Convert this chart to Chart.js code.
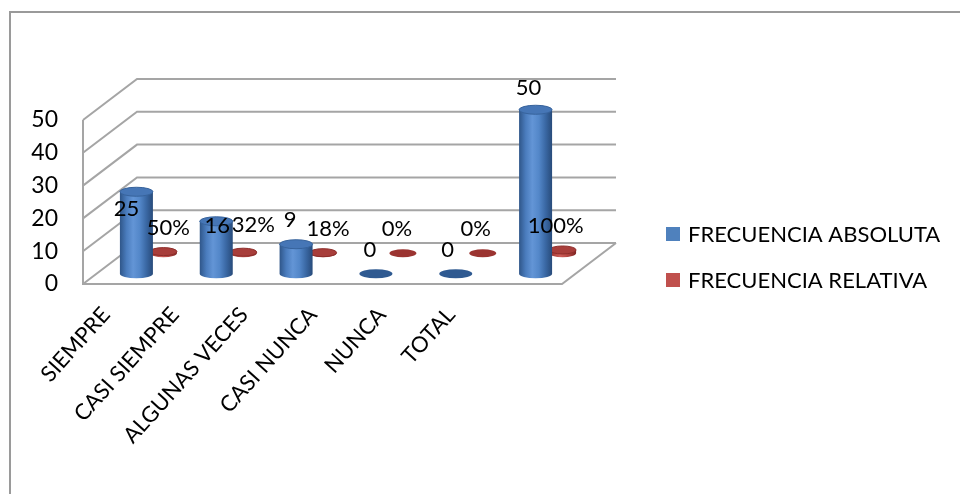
<!DOCTYPE html>
<html><head><meta charset="utf-8">
<script src="https://cdn.jsdelivr.net/npm/chart.js@4.4.1/dist/chart.umd.min.js"></script>
<style>html,body{margin:0;padding:0;background:#fff;}#wrap{width:960px;height:494px;position:relative;}</style>
</head><body><div id="wrap"><canvas id="c" width="960" height="494"></canvas></div>
<script>
// ---- data ----
const categories = ['SIEMPRE', 'CASI SIEMPRE', 'ALGUNAS VECES', 'CASI NUNCA', 'NUNCA', 'TOTAL'];
const absoluta = [25, 16, 9, 0, 0, 50];
const relativa = [0.50, 0.32, 0.18, 0, 0, 1.00];
const seriesNames = ['FRECUENCIA ABSOLUTA', 'FRECUENCIA RELATIVA'];
const yMin = 0, yMax = 50, yStep = 10;

// ---- style ----
const FONT = 'Lato, "Open Sans", sans-serif';
const DEPTH = { dx: 54, dy: -41 };
const STYLE = [
  { depth: 0.25, rx: 16.5, ry: 4.5, grad: ['#2f5689', '#4a7cbd', '#6395d6', '#5387c9', '#3a68a4', '#284b7a'], top: '#4676b6', rim: '#37639c', base: '#2f5a91', legend: '#4F81BD' },
  { depth: 0.75, rx: 13.5, ry: 4, grad: ['#8a2a28', '#b2443f', '#cc5e5a', '#bf4f4b', '#a33a37', '#7d2422'], top: '#a83e3b', rim: '#8e2e2b', base: '#9b3431', legend: '#C0504D' }
];
// label nudges (px) relative to default placement above the column top
const LABEL_NUDGE = [
  [[-10, 41], [1, 29], [-6, 0], [-6, 0], [-8, 0], [-7, 2]],
  [[5, 0], [10, -3], [5, 0], [-6, 0], [-7, 0], [-7, 0]]
];
const GRID = '#a5a5a5';

const excel3d = {
  id: 'excel3d',
  beforeDraw(chart) {
    const ctx = chart.ctx;
    ctx.save();
    ctx.fillStyle = '#fff';
    ctx.fillRect(0, 0, chart.width, chart.height);
    ctx.strokeStyle = '#9a9a9a';
    ctx.lineWidth = 2;
    ctx.beginPath();
    ctx.moveTo(10, chart.height + 5);
    ctx.lineTo(10, 12);
    ctx.lineTo(chart.width + 5, 12);
    ctx.stroke();
    ctx.restore();
  },
  beforeDatasetsDraw(chart) {
    const ctx = chart.ctx, y = chart.scales.y, a = chart.chartArea;
    ctx.save();
    ctx.strokeStyle = GRID;
    ctx.lineWidth = 2;
    ctx.lineJoin = 'miter';
    for (const t of y.ticks) {
      const py = y.getPixelForValue(t.value);
      ctx.beginPath();
      ctx.moveTo(a.left, py);
      ctx.lineTo(a.left + DEPTH.dx, py + DEPTH.dy);
      ctx.lineTo(a.right + DEPTH.dx, py + DEPTH.dy);
      ctx.stroke();
    }
    ctx.beginPath();
    ctx.moveTo(a.left, y.getPixelForValue(yMax));
    ctx.lineTo(a.left, y.getPixelForValue(yMin));
    ctx.lineTo(a.right, y.getPixelForValue(yMin));
    ctx.lineTo(a.right + DEPTH.dx, y.getPixelForValue(yMin) + DEPTH.dy);
    ctx.stroke();
    ctx.restore();
  },
  afterDatasetsDraw(chart) {
    const ctx = chart.ctx;
    ctx.save();
    for (const di of [1, 0]) {
      const st = STYLE[di];
      const meta = chart.getDatasetMeta(di);
      meta.data.forEach((el) => {
        const ox = DEPTH.dx * st.depth, oy = DEPTH.dy * st.depth;
        const cx = el.x + ox, top = el.y + oy, base = el.base + oy;
        const rx = st.rx, ry = st.ry;
        const h = base - top;
        if (h > 0.5) {
          const g = ctx.createLinearGradient(cx - rx, 0, cx + rx, 0);
          const n = st.grad.length;
          st.grad.forEach((c, i) => g.addColorStop(i / (n - 1), c));
          ctx.fillStyle = g;
          ctx.beginPath();
          ctx.moveTo(cx - rx, top);
          ctx.lineTo(cx - rx, base);
          ctx.ellipse(cx, base, rx, ry, 0, Math.PI, 0, true);
          ctx.lineTo(cx + rx, top);
          ctx.closePath();
          ctx.fill();
          ctx.fillStyle = st.top;
          ctx.strokeStyle = st.rim;
          ctx.lineWidth = 1;
          ctx.beginPath();
          ctx.ellipse(cx, top, rx, ry, 0, 0, Math.PI * 2);
          ctx.fill();
          ctx.stroke();
        } else {
          ctx.fillStyle = st.base;
          ctx.beginPath();
          ctx.ellipse(cx, base, rx, ry, 0, 0, Math.PI * 2);
          ctx.fill();
        }
      });
    }
    ctx.fillStyle = '#000';
    ctx.font = '22px ' + FONT;
    ctx.textAlign = 'center';
    ctx.textBaseline = 'middle';
    for (const di of [0, 1]) {
      const st = STYLE[di];
      const meta = chart.getDatasetMeta(di);
      const vals = chart.data.datasets[di].data;
      meta.data.forEach((el, i) => {
        const ox = DEPTH.dx * st.depth, oy = DEPTH.dy * st.depth;
        const txt = di === 0 ? String(vals[i]) : Math.round(vals[i] * 100) + '%';
        const nd = LABEL_NUDGE[di][i];
        ctx.fillText(txt, el.x + ox + nd[0], el.y + oy - 24 + nd[1]);
      });
    }
    ctx.font = '22px ' + FONT;
    ctx.textAlign = 'left';
    chart.data.datasets.forEach((ds, di) => {
      const cy = 234 + di * 46;
      ctx.fillStyle = STYLE[di].legend;
      ctx.fillRect(666, cy - 7, 14, 14);
      ctx.fillStyle = '#000';
      ctx.fillText(ds.label, 688, cy + 1);
    });
    ctx.restore();
  }
};

new Chart(document.getElementById('c'), {
  type: 'bar',
  data: {
    labels: categories,
    datasets: [
      { label: seriesNames[0], data: absoluta, backgroundColor: 'rgba(0,0,0,0)', borderWidth: 0, grouped: false },
      { label: seriesNames[1], data: relativa, backgroundColor: 'rgba(0,0,0,0)', borderWidth: 0, grouped: false }
    ]
  },
  options: {
    responsive: false,
    animation: false,
    events: [],
    layout: { padding: { left: 0, right: 398, top: 120, bottom: 0 } },
    plugins: { legend: { display: false }, tooltip: { enabled: false } },
    scales: {
      x: { type: 'category', display: false, offset: true },
      xl: {
        type: 'linear', position: 'bottom', bounds: 'data', offset: false,
        min: -0.333, max: 6.609,
        grid: { display: false, drawTicks: false, offset: false },
        border: { display: false },
        afterBuildTicks: (s) => { s.ticks = categories.map((c, i) => ({ value: i })); },
        afterFit: (s) => { s.height = 210; },
        ticks: {
          autoSkip: false, minRotation: 48, maxRotation: 48, padding: 18,
          color: '#000', font: { family: FONT, size: 22 },
          callback: (v) => categories[v]
        }
      },
      y: {
        min: yMin, max: yMax,
        grid: { display: false, drawTicks: false },
        border: { display: false },
        afterFit: (s) => { s.width = 83; },
        ticks: { stepSize: yStep, padding: 25, color: '#000', font: { family: FONT, size: 23 } }
      }
    }
  },
  plugins: [excel3d]
});
</script></body></html>
